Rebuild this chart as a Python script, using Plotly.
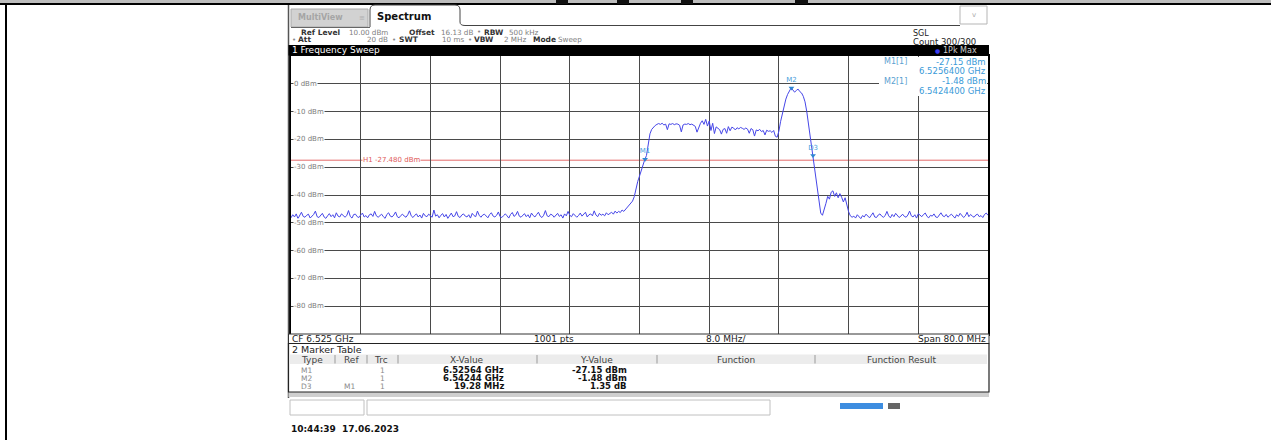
import plotly.graph_objects as go

# ---------------- data ----------------
start_ghz = 6.485
stop_ghz = 6.565
step_ghz = 0.0002          # sweep step used for the read-off trace

noise_low = [
    -48.2, -47.1, -47.9, -46.8, -48.5, -47.4, -46.2, -47.7, -48.0, -47.3,
    -46.9, -48.3, -47.6, -47.0, -45.8, -47.8, -48.1, -47.2, -46.6, -47.9,
    -48.4, -47.5, -46.7, -47.8, -47.1, -48.2, -46.4, -47.6, -47.9, -46.8,
    -47.3, -48.0, -47.4, -45.6, -47.7, -48.3, -47.0, -46.9, -47.8, -48.1,
    -47.2, -46.5, -47.9, -47.4, -48.2, -47.1, -46.8, -47.7, -45.9, -47.5,
    -48.0, -47.3, -46.9, -47.8, -48.4, -47.0, -46.4, -47.6, -47.9, -47.2,
    -46.1, -47.8, -48.2, -47.4, -46.9, -47.6, -48.0, -47.1, -45.7, -47.5,
    -48.1, -47.3, -46.8, -47.9, -47.2, -48.3, -46.6, -47.5, -47.8, -46.9,
    -47.4, -48.0, -45.4, -47.6, -47.1, -48.2, -47.3, -46.7, -47.9, -47.0,
    -48.4, -47.2, -46.5, -47.8, -47.5, -46.0, -47.7, -48.1, -47.2, -46.8,
    -47.6, -47.9, -47.1, -48.3, -46.6, -47.4, -47.8, -45.8, -47.3, -48.0,
    -47.2, -46.9, -47.7, -48.2, -47.0, -46.4, -47.6, -47.9, -47.3, -46.1,
    -47.8, -48.1, -47.4, -46.8, -47.5, -48.3, -47.0, -46.3, -47.7, -47.2,
    -45.9, -47.6, -48.0, -47.3, -46.7, -47.8, -47.1, -48.2, -46.5, -47.4,
    -47.9, -47.0, -46.2, -47.6, -48.1, -47.3, -45.6, -47.5, -47.8, -46.9,
    -47.2, -48.0, -47.4, -46.6, -47.7, -47.1, -48.3, -46.8, -47.5, -45.9,
    -47.3, -47.8, -46.7, -47.2, -48.0, -47.4, -46.5, -47.6, -47.0, -46.2,
    -47.9, -47.1, -46.8, -47.5, -45.7, -47.2, -47.8, -46.6, -47.3, -46.9,
    -47.5, -46.4, -47.1, -46.8, -46.2, -46.9, -45.8, -46.5, -45.9, -46.3,
    -45.4, -45.9, -45.2,
]
rise = [-44.6, -43.8, -42.9, -42.2, -40.6, -37.4, -35.1, -33.2, -31.0, -29.6,
        -27.3, -25.8, -21.2, -18.0, -16.4, -15.5, -15.0, -14.6]
plateau = [
    -14.3, -14.6, -14.2, -14.8, -14.5, -16.5, -14.4, -14.6, -14.3, -14.7,
    -14.4, -14.5, -14.9, -17.3, -14.8, -14.5, -14.6, -14.3, -14.7, -14.5,
    -14.8, -15.3, -17.4, -15.6, -14.2, -13.3, -14.6, -12.8, -15.2, -13.4,
    -16.8, -14.2, -17.9, -15.5, -16.2, -16.5, -18.1, -16.4, -16.1, -17.8,
    -15.4, -16.9, -15.6, -15.9, -16.6, -15.8, -16.2, -15.7, -16.0, -16.4,
    -15.9, -16.3, -17.8, -16.1, -16.5, -18.8, -16.6, -16.9, -16.4, -17.2,
    -16.8, -18.4, -16.7, -17.1, -16.9, -17.5, -16.8, -18.9, -19.2,
]
hump = [
    -17.0, -13.5, -10.5, -8.0, -5.5, -3.8, -2.6, -1.5, -2.2, -3.0,
    -2.4, -1.9, -2.8, -3.3, -4.5, -6.5, -10.0, -14.5, -19.0, -23.5,
    -27.5, -32.0, -37.0, -42.0, -46.5, -47.3, -45.5, -43.0, -40.5, -41.5,
    -39.0, -38.5, -40.5, -39.2, -41.0, -39.5, -40.8, -42.5, -41.0, -44.0,
    -46.0, -47.5,
]
noise_high = [
    -48.0,
    -47.6, -48.3, -47.1, -47.8, -48.5, -47.4, -47.9, -46.9, -47.7, -48.2,
    -47.3, -46.4, -47.9, -48.1, -47.2, -46.8, -47.6, -48.0, -47.4, -45.9,
    -47.5, -48.2, -47.0, -47.8, -46.6, -47.3, -48.1, -47.6, -46.9, -47.7,
    -48.0, -47.2, -45.8, -47.5, -47.9, -47.1, -48.3, -46.7, -47.4, -47.8,
    -47.0, -46.5, -47.7, -48.2, -47.3, -47.6, -46.8, -47.9, -48.1, -47.2,
    -46.4, -47.5, -47.8, -47.0, -48.0, -47.4, -46.9, -47.6, -48.3, -47.1,
    -47.7, -46.6, -47.3, -48.1, -47.5, -46.2, -47.8, -47.0, -47.6, -48.0,
    -47.2, -46.9, -47.8, -47.4, -48.1, -47.0, -46.5, -47.3,
]
levels_dbm = noise_low + rise + plateau + hump + noise_high
assert len(levels_dbm) == 401, len(levels_dbm)
freqs_ghz = [start_ghz + step_ghz * i for i in range(len(levels_dbm))]

marker_names = ["M1", "M2", "D3"]
marker_freq_ghz = [6.52564, 6.54244, 6.54492]
marker_level_dbm = [-27.15, -1.48, -25.80]

display_line_dbm = -27.48
y_ticks = [0, -10, -20, -30, -40, -50, -60, -70, -80]
y_tick_text = ["0 dBm", "-10 dBm", "-20 dBm", "-30 dBm", "-40 dBm",
               "-50 dBm", "-60 dBm", "-70 dBm", "-80 dBm"]

tbl_type = ["M1", "M2", "D3"]
tbl_ref = ["", "", "M1"]
tbl_trc = ["1", "1", "1"]
tbl_x = ["6.52564 GHz", "6.54244 GHz", "19.28 MHz"]
tbl_y = ["-27.15 dBm", "-1.48 dBm", "1.35 dB"]

# ---------------- layout helpers ----------------
W, H = 1271, 440
PL, PR, PT, PB = 291, 988, 56, 334
FONT = "DejaVu Sans"


def px(x):
    return (x - PL) / (PR - PL)


def py(y):
    return (PB - y) / (PB - PT)


def fx(x):
    return start_ghz + (x - PL) / (PR - PL) * (stop_ghz - start_ghz)


shapes = []
annotations = []


def rect(x0, y0, x1, y1, fill=None, line=None, lw=0, layer="above"):
    shapes.append(dict(type="rect", xref="paper", yref="paper",
                       x0=px(x0), x1=px(x1), y0=py(y1), y1=py(y0),
                       fillcolor=fill or "rgba(0,0,0,0)",
                       line=dict(color=line or "rgba(0,0,0,0)", width=lw),
                       layer=layer))


def seg(x0, y0, x1, y1, color="#000", lw=1):
    shapes.append(dict(type="line", xref="paper", yref="paper",
                       x0=px(x0), x1=px(x1), y0=py(y0), y1=py(y1),
                       line=dict(color=color, width=lw), layer="above"))


def txt(x, y, s, size=8, color="#222", bold=False, anchor="left", bg=None):
    annotations.append(dict(xref="paper", yref="paper", x=px(x), y=py(y),
                            text=("<b>%s</b>" % s) if bold else s,
                            showarrow=False, xanchor=anchor, yanchor="middle",
                            font=dict(size=size, color=color, family=FONT),
                            bgcolor=bg, borderpad=0))


# outer frame of the page
rect(0, 0, W, 3, fill="#bdbdbd")
rect(0, 3, W, 5, fill="#000")
rect(5, 3, 7, H, fill="#000")
for a, b in [(556, 568), (617, 629), (681, 693), (795, 808)]:
    rect(a, 0, b, 4, fill="#111")

# instrument screen edge
seg(288.5, 5, 288.5, 398, color="#555", lw=1.5)

# tabs
rect(291, 9, 368, 27, fill="#d2d2d2", line="#aaaaaa", lw=1)
txt(297, 18, "MultiView", size=8, color="#a5a5a5", bold=True)
txt(358, 18, "≡", size=7, color="#b0b0b0")
path = "M %f,%f L %f,%f Q %f,%f %f,%f L %f,%f Q %f,%f %f,%f L %f,%f Q %f,%f %f,%f L %f,%f" % (
    px(370), py(27), px(370), py(10), px(370), py(5), px(375), py(5),
    px(455), py(5), px(460), py(5), px(460), py(10), px(460), py(22),
    px(460), py(25.5), px(465), py(25.5), px(960), py(25.5))
shapes.append(dict(type="path", xref="paper", yref="paper", path=path,
                   line=dict(color="#444", width=1), layer="above"))
seg(291, 27.5, 370, 27.5, color="#666", lw=1)
txt(376, 16, "Spectrum", size=10, color="#111", bold=True)
rect(960, 6, 987, 24, fill="#fff", line="#b5b5b5", lw=1)
txt(973.5, 15, "v", size=7, color="#aaa", anchor="center")

# settings header
txt(300, 32, "Ref Level", size=7.5, color="#333", bold=True)
txt(348, 32, "10.00 dBm", size=7.2, color="#808080")
txt(408, 32, "Offset", size=7.5, color="#333", bold=True)
txt(440, 32, "16.13 dB", size=7.2, color="#808080")
txt(476, 32, "•", size=7, color="#888")
txt(483, 32, "RBW", size=7.5, color="#333", bold=True)
txt(508, 32, "500 kHz", size=7.2, color="#808080")
txt(291, 40, "•", size=7, color="#888")
txt(297, 40, "Att", size=7.5, color="#333", bold=True)
txt(389, 40, "20 dB", size=7.2, color="#808080", anchor="right")
txt(391, 40, "•", size=7, color="#888")
txt(398, 40, "SWT", size=7.5, color="#333", bold=True)
txt(465, 40, "10 ms", size=7.2, color="#808080", anchor="right")
txt(467, 40, "•", size=7, color="#888")
txt(473, 40, "VBW", size=7.5, color="#333", bold=True)
txt(527, 40, "2 MHz", size=7.2, color="#808080", anchor="right")
txt(532, 40, "Mode", size=7.5, color="#333", bold=True)
txt(557, 40, "Sweep", size=7.2, color="#808080")
txt(912, 33, "SGL", size=8, color="#222")
txt(912, 41.5, "Count 300/300", size=8.5, color="#222")

# window title bar
rect(288.5, 45, 989, 55.5, fill="#000")
txt(291, 50.5, "1 Frequency Sweep", size=9, color="#ffffff")
txt(934, 50.5, "●", size=6, color="#3a3af0")
txt(942, 50.5, "1Pk Max", size=8, color="#cfcfcf")

# display line H1 (below the grid)
shapes.append(dict(type="line", xref="x domain", yref="y", x0=0, x1=1,
                   y0=display_line_dbm, y1=display_line_dbm,
                   line=dict(color="#e46a6a", width=1), layer="below"))
annotations.append(dict(xref="x", yref="y", x=fx(362), y=display_line_dbm,
                        text="H1 -27.480 dBm", showarrow=False,
                        xanchor="left", yanchor="middle", bgcolor="#ffffff", borderpad=0,
                        font=dict(size=7, color="#e05a5a", family=FONT)))

# level labels inside the diagram, on the grid lines
for v, s in zip(y_ticks, y_tick_text):
    annotations.append(dict(xref="x", yref="y", x=fx(293), y=v, text=s,
                            showarrow=False, xanchor="left", yanchor="middle",
                            bgcolor="#ffffff", borderpad=0,
                            font=dict(size=7, color="#7c7c7c", family=FONT)))

# marker info box
rect(879, 57, 987, 96, fill="#ffffff")
MC = "#3a9ad8"
txt(908, 62, "M1[1]", size=8, color="#5a9fd0", anchor="right")
txt(987, 62, "-27.15 dBm", size=8.5, color=MC, anchor="right")
txt(987, 71, "6.5256400 GHz", size=8.5, color=MC, anchor="right")
txt(908, 81, "M2[1]", size=8, color="#5a9fd0", anchor="right")
txt(987, 81, "-1.48 dBm", size=8.5, color=MC, anchor="right")
txt(987, 90.5, "6.5424400 GHz", size=8.5, color=MC, anchor="right")

# bottom info row
rect(288.5, 334, 989, 343.5, fill="#ffffff", line="#333", lw=1)
txt(291, 338.7, "CF 6.525 GHz", size=9, color="#222")
txt(533, 338.7, "1001 pts", size=9, color="#222")
txt(705, 338.7, "8.0 MHz/", size=9, color="#222")
txt(987, 338.7, "Span 80.0 MHz", size=9, color="#222", anchor="right")

# marker table
rect(288.5, 392, 989, 397, fill="#cfcfcf")
rect(288.5, 343.5, 989, 392, fill="#ffffff", line="#222", lw=1.2)
txt(291, 349.5, "2 Marker Table", size=9.5, color="#222")
rect(290, 354.5, 987, 364, fill="#ececec")
for sx in [335, 367, 398, 537, 657, 815]:
    seg(sx, 355, sx, 363.5, color="#9a9a9a", lw=1)
HC = "#444"
txt(300, 359.5, "Type", size=9, color=HC)
txt(343, 359.5, "Ref", size=9, color=HC)
txt(373, 359.5, "Trc", size=9, color=HC)
txt(467, 359.5, "X-Value", size=9, color=HC, anchor="center")
txt(596, 359.5, "Y-Value", size=9, color=HC, anchor="center")
txt(736, 359.5, "Function", size=9, color=HC, anchor="center")
txt(901, 359.5, "Function Result", size=9, color=HC, anchor="center")
for i, ry in enumerate([370, 378, 386]):
    txt(300, ry, tbl_type[i], size=7.5, color="#8a8a8a")
    if tbl_ref[i]:
        txt(343, ry, tbl_ref[i], size=7.5, color="#8a8a8a")
    txt(382, ry, tbl_trc[i], size=7.5, color="#8a8a8a", anchor="center")
    txt(505, ry, tbl_x[i], size=8.5, color="#111", bold=True, anchor="right")
    txt(628, ry, tbl_y[i], size=8.5, color="#111", bold=True, anchor="right")

# status fields
rect(290, 400, 364, 415, fill="#ffffff", line="#c0c0c0", lw=1)
rect(367, 400, 770, 415, fill="#ffffff", line="#c0c0c0", lw=1)
rect(840, 403, 883, 409, fill="#3d8de0")
rect(888, 403, 900, 409, fill="#666666")

txt(290, 429, "10:44:39  17.06.2023", size=9, color="#111", bold=True)

# ---------------- figure ----------------
fig = go.Figure()
fig.add_trace(go.Scatter(x=freqs_ghz, y=levels_dbm, mode="lines",
                         line=dict(color="#4646e8", width=1), hoverinfo="skip",
                         showlegend=False))
fig.add_trace(go.Scatter(x=marker_freq_ghz, y=marker_level_dbm, mode="markers+text",
                         text=marker_names, textposition="top center",
                         textfont=dict(size=7, color="#4aa0dc", family=FONT),
                         marker=dict(symbol="triangle-down", size=5, color="#2f86d2"),
                         hoverinfo="skip", showlegend=False))

fig.update_layout(
    width=W, height=H, autosize=False,
    margin=dict(l=PL, r=W - PR, t=PT, b=H - PB, pad=0),
    paper_bgcolor="#ffffff", plot_bgcolor="#ffffff",
    font=dict(family=FONT, size=8, color="#222"),
    shapes=shapes, annotations=annotations,
    xaxis=dict(range=[start_ghz, stop_ghz], tick0=start_ghz, dtick=0.008,
               showgrid=True, gridcolor="#4a4a4a", gridwidth=1,
               showticklabels=False, ticks="", zeroline=False,
               showline=True, linecolor="#000", linewidth=1.5, mirror=True,
               fixedrange=True),
    yaxis=dict(range=[-90, 10], tickvals=y_ticks, ticktext=y_tick_text,
               showticklabels=False, ticks="",
               showgrid=True, gridcolor="#4a4a4a", gridwidth=1,
               zeroline=False, showline=True, linecolor="#000", linewidth=1.5,
               mirror=True, fixedrange=True),
)

fig.write_html("out.html", config={"displayModeBar": False},
               post_script="document.body.style.margin='0';document.body.style.overflow='hidden';")
